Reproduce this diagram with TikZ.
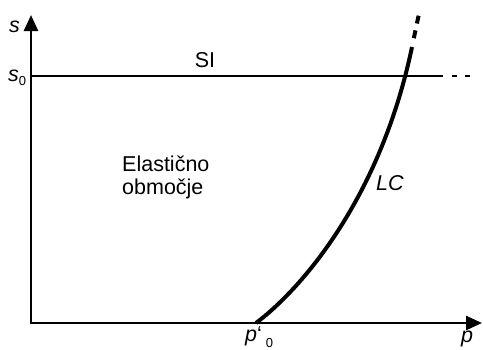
\documentclass[tikz,border=0pt]{standalone}
\usepackage{fontspec}
\setmainfont{Liberation Sans}
\usetikzlibrary{arrows.meta}
\begin{document}
\begin{tikzpicture}[x=1pt,y=-1pt,
  axis/.style={line width=2.6pt,-{Triangle[length=16pt,width=14pt]}},
  thin line/.style={line width=2.6pt},
  curve/.style={line width=4pt},
  lbl/.style={inner sep=0pt,font=\fontsize{21.5}{24}\selectfont}]
\useasboundingbox (0,0) rectangle (483,349);
% axes
\coordinate (O) at (31,324.3);
\coordinate (O2) at (29.7,323);
\coordinate (ytip) at (31,15);
\coordinate (xtip) at (482,323);
\draw[axis] (O) -- (ytip);
\draw[axis] (O2) -- (xtip);
% SI line
\coordinate (si0) at (31,76);
\coordinate (si1) at (443,76);
\coordinate (sid1a) at (452,76);
\coordinate (sid1b) at (457,76);
\coordinate (sid2a) at (465,76);
\coordinate (sid2b) at (470,76);
\draw[thin line] (si0) -- (si1);
\draw[thin line] (sid1a) -- (sid1b);
\draw[thin line] (sid2a) -- (sid2b);
% LC curve
\coordinate (lc0) at (256,323);
\coordinate (lc1) at (412,47);
\coordinate (lcd1a) at (413.8,38.2);
\coordinate (lcd1b) at (415.5,30.4);
\coordinate (lcd2a) at (416.9,23.5);
\coordinate (lcd2b) at (418.6,15.7);
\draw[curve] (lc0) .. controls (300,290) and (380,200) .. (lc1);
\draw[curve] (lcd1a) -- (lcd1b);
\draw[curve] (lcd2a) -- (lcd2b);
% labels
\node[lbl,anchor=base west] (s) at (9,32) {\itshape s};
\node[lbl,anchor=base west] (s0) at (8,81) {\itshape s\upshape\raisebox{-0.22em}{\fontsize{13}{13}\selectfont 0}};
\node[lbl,anchor=base] (SI) at (205,67) {SI};
\node[lbl,anchor=base west] (el) at (122,171) {Elastično};
\node[lbl,anchor=base west] (ob) at (122,194) {območje};
\node[lbl,anchor=base west] (LC) at (376,190) {\itshape LC};
\node[lbl,anchor=base west] (p0) at (245,341) {\itshape p\upshape\symbol{"60}\hspace{4pt}\raisebox{-0.3em}{\fontsize{13}{13}\selectfont 0}};
\node[lbl,anchor=base west] (p) at (461,342) {\itshape p};
\end{tikzpicture}
\end{document}
